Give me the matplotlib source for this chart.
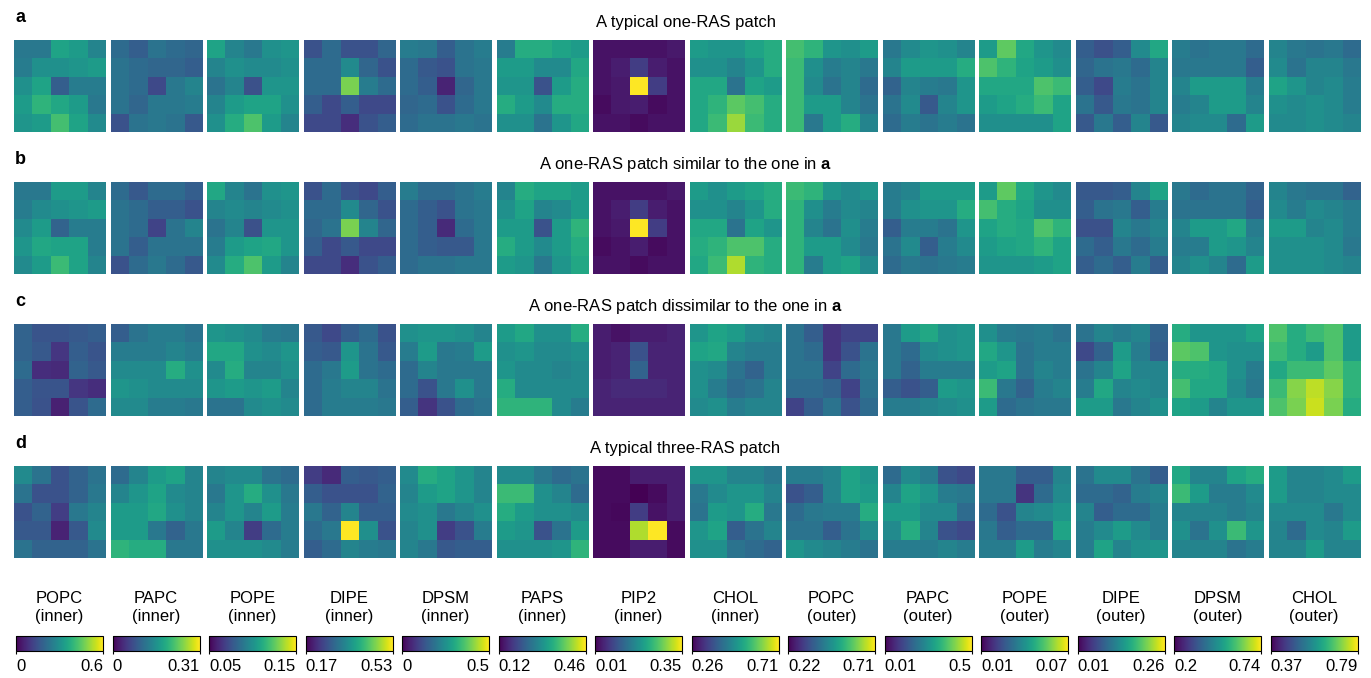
import numpy as np
import matplotlib.pyplot as plt

plt.rcParams['font.family'] = ['Liberation Sans', 'DejaVu Sans']
plt.rcParams['mathtext.fontset'] = 'custom'
plt.rcParams['mathtext.rm'] = 'Liberation Sans'
plt.rcParams['mathtext.bf'] = 'Liberation Sans:bold'

# lipid species / leaflet and colour bar ranges
lipids = ['POPC', 'PAPC', 'POPE', 'DIPE', 'DPSM', 'PAPS', 'PIP2', 'CHOL',
          'POPC', 'PAPC', 'POPE', 'DIPE', 'DPSM', 'CHOL']
leaflets = ['inner'] * 8 + ['outer'] * 6
cbar_lo = [0, 0, 0.05, 0.17, 0, 0.12, 0.01, 0.26, 0.22, 0.01, 0.01, 0.01, 0.2, 0.37]
cbar_hi = [0.6, 0.31, 0.15, 0.53, 0.5, 0.46, 0.35, 0.71, 0.71, 0.5, 0.07, 0.26, 0.74, 0.79]

panel_letters = ['a', 'b', 'c', 'd']
row_titles = ['A typical one-RAS patch',
              r'A one-RAS patch similar to the one in $\mathbf{a}$',
              r'A one-RAS patch dissimilar to the one in $\mathbf{a}$',
              'A typical three-RAS patch']

# 5x5 density grids, given as percent of each colour bar range
patch_a = [
    "40 40 58 55 45 / 42 50 50 52 55 / 50 58 30 42 42 / 55 65 60 55 40 / 52 55 70 58 48",
    "35 30 38 35 33 / 38 35 33 33 30 / 38 35 22 40 45 / 38 33 40 40 42 / 25 38 40 38 28",
    "58 45 40 50 52 / 45 50 48 48 50 / 38 45 25 52 52 / 45 55 58 58 50 / 50 62 72 55 45",
    "25 35 25 25 33 / 35 35 48 33 25 / 35 35 80 42 35 / 30 22 30 22 22 / 22 22 13 25 30",
    "42 40 30 38 42 / 35 28 25 38 40 / 35 30 10 33 40 / 33 35 25 35 40 / 35 38 38 40 38",
    "42 62 62 58 55 / 55 55 48 48 60 / 52 52 25 55 62 / 62 55 48 62 62 / 50 50 38 52 60",
    "5 5 5 5 7 / 5 8 18 8 5 / 5 7 100 18 5 / 3 7 8 3 5 / 5 5 3 5 5",
    "55 52 52 58 62 / 50 50 45 52 62 / 60 60 38 58 55 / 60 65 75 70 62 / 60 68 85 68 62",
    "70 65 52 50 55 / 68 50 42 45 40 / 68 48 38 45 35 / 68 55 55 45 38 / 68 40 55 62 45",
    "40 48 52 50 45 / 45 55 55 55 62 / 32 45 42 40 52 / 38 48 28 45 52 / 35 42 38 42 38",
    "55 75 60 52 48 / 72 65 58 55 50 / 60 60 60 72 68 / 55 58 62 68 58 / 50 50 50 50 58",
    "30 25 30 48 60 / 33 38 40 35 45 / 30 22 42 38 45 / 38 28 40 38 45 / 28 40 30 45 28",
    "42 38 40 40 35 / 40 40 40 40 30 / 45 55 55 55 42 / 42 45 55 55 45 / 45 48 48 35 55",
    "45 40 38 40 35 / 48 38 45 45 40 / 58 52 45 48 42 / 50 48 50 48 42 / 48 48 50 48 45",
]
patch_b = [
    "40 40 55 55 45 / 42 48 50 52 55 / 48 55 32 42 42 / 52 60 58 58 42 / 48 55 68 58 45",
    "35 28 35 35 30 / 38 35 30 30 25 / 38 35 20 38 45 / 38 30 38 38 38 / 25 35 40 35 28",
    "60 45 38 50 52 / 45 48 45 48 50 / 38 45 25 52 52 / 42 55 58 60 52 / 48 62 72 55 45",
    "25 35 25 22 30 / 35 35 48 33 25 / 33 38 80 45 33 / 30 22 28 22 22 / 22 22 13 25 30",
    "42 35 35 38 42 / 35 30 25 38 40 / 35 30 12 35 40 / 35 30 28 28 40 / 35 38 38 40 40",
    "45 62 58 58 55 / 50 58 45 48 55 / 55 55 25 55 65 / 62 55 48 55 62 / 55 52 40 52 60",
    "5 5 5 5 7 / 5 8 18 8 5 / 5 7 100 18 5 / 3 5 8 3 5 / 5 5 3 5 5",
    "55 50 55 58 62 / 50 50 45 52 62 / 60 60 38 58 52 / 62 65 72 72 62 / 60 68 88 65 62",
    "68 65 52 48 52 / 65 50 42 48 45 / 65 45 38 50 42 / 65 55 55 48 40 / 65 42 55 58 48",
    "42 45 55 55 55 / 42 50 52 52 62 / 30 42 42 38 52 / 38 48 30 42 48 / 35 40 38 40 42",
    "55 75 60 52 48 / 70 62 58 50 50 / 58 62 60 72 65 / 55 58 60 65 58 / 52 52 52 55 58",
    "28 28 30 45 58 / 30 38 40 30 42 / 25 25 45 40 45 / 35 30 40 35 42 / 30 35 30 42 30",
    "40 35 38 38 32 / 38 38 38 38 30 / 45 55 55 60 42 / 42 42 55 52 45 / 45 50 45 35 55",
    "45 40 38 38 32 / 48 42 48 45 42 / 55 55 45 48 42 / 50 50 50 48 40 / 50 50 50 48 45",
]
patch_c = [
    "32 26 26 28 30 / 32 28 16 30 26 / 35 13 12 32 28 / 30 26 26 16 13 / 30 25 9 26 35",
    "30 38 42 42 38 / 42 42 42 45 42 / 48 48 48 62 50 / 52 50 48 48 48 / 48 48 42 42 40",
    "52 50 48 42 40 / 60 60 50 48 52 / 48 62 45 45 50 / 52 55 52 55 45 / 38 38 48 50 48",
    "28 22 30 35 25 / 30 28 52 38 28 / 35 40 55 38 35 / 35 42 45 45 38 / 35 42 42 42 40",
    "50 52 52 50 45 / 42 55 40 42 55 / 35 45 40 40 40 / 35 25 40 50 40 / 30 15 25 35 38",
    "55 60 50 50 62 / 50 52 48 48 50 / 52 48 48 45 48 / 62 48 48 48 48 / 65 65 65 48 42",
    "8 5 8 8 10 / 8 10 25 10 10 / 8 10 32 10 10 / 10 12 12 12 10 / 10 10 10 10 10",
    "52 58 55 48 45 / 58 60 45 42 42 / 50 48 38 32 42 / 50 42 35 38 45 / 48 50 42 45 45",
    "38 30 15 20 20 / 38 35 15 25 38 / 38 38 20 35 40 / 35 35 32 20 38 / 20 30 38 25 35",
    "40 55 60 50 52 / 40 35 48 50 52 / 40 32 42 42 42 / 30 25 30 55 52 / 42 42 45 48 50",
    "50 42 40 42 38 / 60 52 38 42 42 / 55 58 38 45 42 / 68 40 32 42 45 / 55 35 38 40 40",
    "38 45 42 45 32 / 22 32 55 42 30 / 38 45 58 45 45 / 42 60 45 48 45 / 55 55 40 45 50",
    "62 52 52 52 58 / 75 72 52 50 50 / 62 62 60 50 42 / 70 60 60 48 40 / 58 55 45 52 52",
    "72 62 68 72 55 / 68 62 55 72 55 / 60 68 68 75 65 / 68 82 90 82 65 / 72 80 92 80 62",
]
patch_d = [
    "48 38 25 32 38 / 38 25 25 32 40 / 25 32 18 40 45 / 28 28 10 28 48 / 38 32 32 32 38",
    "35 45 55 58 45 / 45 52 58 48 45 / 55 55 60 50 45 / 55 55 40 32 40 / 65 62 62 40 40",
    "45 48 48 38 35 / 40 52 62 50 40 / 45 52 45 55 42 / 55 45 18 35 42 / 50 50 50 48 42",
    "18 12 30 28 30 / 30 25 25 25 32 / 40 32 45 30 30 / 35 40 100 50 25 / 30 35 45 42 40",
    "48 62 58 52 45 / 45 55 58 52 45 / 48 50 40 45 50 / 45 50 18 25 42 / 45 40 28 30 30",
    "48 48 40 35 38 / 68 68 50 45 35 / 62 55 50 50 48 / 55 52 25 38 55 / 50 50 50 52 65",
    "3 3 8 8 8 / 3 3 0 3 8 / 3 2 18 5 8 / 3 3 88 100 3 / 3 3 8 8 3",
    "52 52 45 45 40 / 40 48 52 52 45 / 38 55 52 62 40 / 52 58 30 38 45 / 50 50 38 35 32",
    "42 42 45 58 52 / 25 30 45 58 55 / 35 40 42 42 62 / 38 38 30 38 48 / 52 48 45 42 38",
    "35 48 42 25 22 / 45 58 52 42 40 / 55 55 48 48 35 / 48 62 45 25 22 / 42 42 42 45 42",
    "40 40 30 30 45 / 40 40 15 35 48 / 35 25 45 48 52 / 40 30 35 35 58 / 42 42 55 42 45",
    "38 48 48 38 30 / 35 35 32 42 45 / 45 30 35 35 42 / 42 48 55 48 42 / 42 58 45 50 52",
    "60 45 45 58 62 / 68 55 42 42 48 / 45 45 45 42 45 / 50 38 50 68 52 / 45 45 45 38 42",
    "55 45 45 48 55 / 55 45 45 48 48 / 48 48 48 40 48 / 45 35 48 45 55 / 45 45 55 45 45",
]
patches = [patch_a, patch_b, patch_c, patch_d]


def grid(s):
    return np.array([[float(v) for v in row.split()] for row in s.split('/')]) / 100.0


W, H = 1371, 678
fig = plt.figure(figsize=(W / 100, H / 100), dpi=100)


def px_axes(x, y, w, h):
    # pixel box (from top-left) -> figure fraction
    return fig.add_axes([x / W, 1 - (y + h) / H, w / W, h / H])


row_tops = [40, 182, 324, 466]
pitch = 96.5
ims = []
for r, patch in enumerate(patches):
    top = row_tops[r]
    for k in range(14):
        ax = px_axes(14 + k * pitch, top, 91.5, 92)
        lo, hi = cbar_lo[k], cbar_hi[k]
        vals = lo + grid(patch[k]) * (hi - lo)
        im = ax.imshow(vals, cmap='viridis', vmin=lo, vmax=hi,
                       aspect='auto', interpolation='nearest')
        ax.set_axis_off()
        if r == 0:
            ims.append(im)
    fig.text(15 / W, 1 - (top - 23) / H, panel_letters[r], fontsize=13,
             fontweight='bold', ha='left', va='center')
    fig.text(0.5, 1 - (top - 18) / H, row_titles[r], fontsize=12,
             ha='center', va='center')

# colour bars
for k in range(14):
    cax = px_axes(16 + k * pitch, 636, 87, 15)
    cb = fig.colorbar(ims[k], cax=cax, orientation='horizontal',
                      ticks=[cbar_lo[k], cbar_hi[k]])
    cb.ax.set_xticklabels(['%g' % cbar_lo[k], '%g' % cbar_hi[k]])
    labs = cb.ax.get_xticklabels()
    labs[0].set_ha('left')
    labs[1].set_ha('right')
    cb.ax.tick_params(length=2.5, width=0.8, pad=3, labelsize=12)
    cb.outline.set_linewidth(0.8)
    cb.ax.set_title(lipids[k] + '\n(' + leaflets[k] + ')', fontsize=12, pad=11)

fig.savefig('out.png', dpi=100)
